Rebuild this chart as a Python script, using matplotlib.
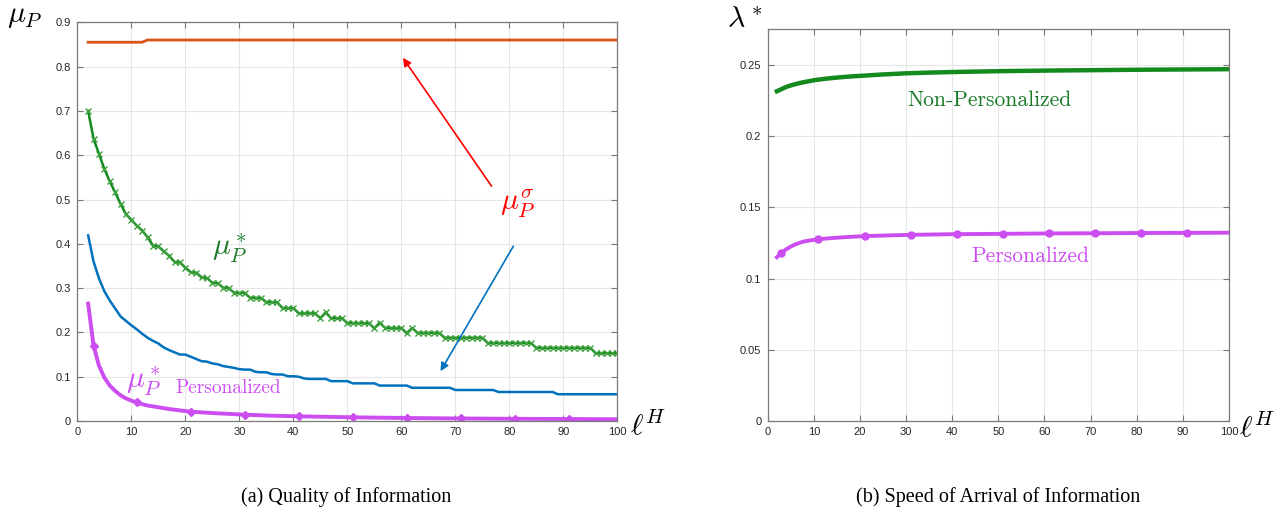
import matplotlib
matplotlib.use("Agg")
from matplotlib import pyplot as plt
import numpy as np

plt.rcParams['mathtext.fontset'] = 'cm'
plt.rcParams['font.family'] = ['Liberation Sans', 'DejaVu Sans']

# ---- panel (a): quality of information ----
lh = list(range(2, 101))

mu_sigma = [0.855] * 11 + [0.86] * 88

mu_star_np = [0.700, 0.637, 0.603, 0.569, 0.541, 0.516, 0.490, 0.467, 0.454, 0.441,
              0.430, 0.415, 0.396, 0.394, 0.383, 0.373, 0.359, 0.358, 0.346, 0.336,
              0.335, 0.324, 0.323, 0.312, 0.311, 0.301, 0.300, 0.290, 0.289, 0.289,
              0.278, 0.278, 0.278, 0.268, 0.268, 0.268, 0.255, 0.255, 0.255, 0.243,
              0.243, 0.243, 0.243, 0.232, 0.245, 0.232, 0.232, 0.232, 0.221, 0.221,
              0.221, 0.221, 0.221, 0.209, 0.222, 0.210, 0.210, 0.210, 0.210, 0.198,
              0.210, 0.199, 0.199, 0.199, 0.199, 0.199] \
    + [0.188] * 8 + [0.176] * 9 + [0.165] * 11 + [0.153] * 5

mu_blue = [0.419, 0.360, 0.322, 0.293, 0.272, 0.254, 0.236, 0.226, 0.216, 0.207,
           0.197, 0.188, 0.181, 0.175, 0.166, 0.160, 0.155, 0.150, 0.150, 0.145,
           0.140, 0.135, 0.134, 0.130, 0.128, 0.124, 0.122, 0.120, 0.117, 0.116,
           0.116, 0.111, 0.110, 0.110, 0.106, 0.105, 0.105, 0.101, 0.101, 0.100,
           0.096, 0.095, 0.095, 0.095, 0.095, 0.090, 0.090, 0.090, 0.090, 0.085,
           0.085, 0.085, 0.085, 0.085] \
    + [0.080] * 6 + [0.075] * 8 + [0.070] * 8 + [0.0655] * 11 + [0.0605] * 12

pers_x = [2, 3, 4, 5, 6, 7, 8, 9, 10, 11, 12, 13, 14, 15, 17, 19, 21, 25, 31, 36,
          41, 51, 61, 71, 81, 91, 100]
pers_mu = [0.265, 0.170, 0.125, 0.098, 0.080, 0.068, 0.058, 0.051, 0.046, 0.042,
           0.038, 0.035, 0.033, 0.031, 0.027, 0.024, 0.021, 0.018, 0.0143, 0.012,
           0.0106, 0.0083, 0.0068, 0.0057, 0.0050, 0.0045, 0.0040]

# ---- panel (b): speed of arrival ----
np_x = [2, 3, 4, 5, 6, 7, 8, 9, 10, 12, 14, 16, 18, 20, 25, 30, 35, 40, 45, 50,
        60, 70, 80, 90, 100]
np_lam = [0.2315, 0.2330, 0.2345, 0.2356, 0.2365, 0.2373, 0.2380, 0.2386, 0.2392,
          0.2401, 0.2408, 0.2414, 0.2419, 0.2423, 0.2433, 0.2441, 0.2446, 0.2450,
          0.2453, 0.2456, 0.2460, 0.2463, 0.2466, 0.2468, 0.2470]

p_x = [2, 3, 4, 5, 6, 7, 8, 9, 10, 11, 13, 15, 18, 21, 26, 31, 41, 51, 61, 71, 81,
       91, 100]
p_lam = [0.115, 0.118, 0.1205, 0.1225, 0.124, 0.1252, 0.1261, 0.1267, 0.1272,
         0.1276, 0.1282, 0.1287, 0.1293, 0.1298, 0.1303, 0.1307, 0.1312, 0.1314,
         0.1317, 0.1318, 0.1320, 0.1321, 0.1322]
mark_at = [3, 11, 21, 31, 41, 51, 61, 71, 81, 91]

orange = '#D95319'
blue = '#0072BD'
green = '#148A1E'
purple = '#CC4DF0'
axcol = '#7A7A7A'


def style(ax):
    ax.grid(True, color='#E6E6E6', lw=0.8)
    ax.set_axisbelow(True)
    for s in ax.spines.values():
        s.set_color(axcol)
        s.set_linewidth(0.9)
    ax.tick_params(direction='in', top=True, right=True, length=4,
                   color=axcol, labelsize=8, labelcolor='#262626', pad=4.5)
    ax.set_xlim(0, 100)
    ax.set_xticks(range(0, 101, 10))


fig = plt.figure(figsize=(12.85, 5.15), dpi=100)
ax1 = fig.add_axes([0.0602, 0.1825, 0.4202, 0.7742])
ax2 = fig.add_axes([0.5974, 0.1825, 0.3590, 0.7606])

# panel (a)
style(ax1)
ax1.set_ylim(0, 0.9)
ax1.set_yticks(np.arange(0, 0.91, 0.1))
ax1.set_yticklabels(['0'] + ['%.1f' % v for v in np.arange(0.1, 0.91, 0.1)])
ax1.plot(lh, mu_sigma, color=orange, lw=2)
ax1.plot(lh, mu_star_np, color=green, lw=1.8, marker='x', ms=4.5,
         mec='#3DA03D', mew=1)
ax1.plot(lh, mu_blue, color=blue, lw=1.8)
ax1.plot(pers_x, pers_mu, color=purple, lw=2.8, marker='D', ms=4.5,
         markevery=[pers_x.index(v) for v in mark_at])

ax1.annotate('', xy=(60, 0.825), xytext=(77, 0.525),
             arrowprops=dict(arrowstyle='-|>', color='red', lw=1.2,
                             mutation_scale=12))
ax1.annotate('', xy=(67, 0.107), xytext=(81, 0.40),
             arrowprops=dict(arrowstyle='-|>', color=blue, lw=1.2,
                             mutation_scale=12))
ax1.text(81.5, 0.49, r'$\mu_P^\sigma$', color='red', fontsize=21.5,
         ha='center', va='center')
ax1.text(28.3, 0.39, r'$\mu_P^*$', color='#1A7A28', fontsize=21.5,
         ha='center', va='center')
ax1.text(12.3, 0.09, r'$\mu_P^*$', color=purple, fontsize=21.5,
         ha='center', va='center')
ax1.text(27.9, 0.075, 'Personalized', color=purple, fontsize=14,
         family='cmr10', ha='center', va='center')

fig.text(25 / 1285, 1 - 16 / 515, r'$\mu_P$', fontsize=21.5, ha='center',
         va='center')
fig.text(648 / 1285, 1 - 426 / 515, r'$\ell^H$', fontsize=21.5, ha='center',
         va='center')

# panel (b)
style(ax2)
ax2.set_ylim(0, 0.275)
ax2.set_yticks([0, 0.05, 0.1, 0.15, 0.2, 0.25])
ax2.set_yticklabels(['0', '0.05', '0.1', '0.15', '0.2', '0.25'])
ax2.plot(np_x, np_lam, color=green, lw=3.2)
ax2.plot(p_x, p_lam, color=purple, lw=2.8, marker='o', ms=5,
         markevery=[p_x.index(v) for v in mark_at])
ax2.text(48, 0.225, 'Non-Personalized', color='#1A7A28', fontsize=15.5,
         family='cmr10', ha='center', va='center')
ax2.text(57, 0.1156, 'Personalized', color=purple, fontsize=15.5,
         family='cmr10', ha='center', va='center')

fig.text(745 / 1285, 1 - 20 / 515, r'$\lambda^*$', fontsize=21.5, ha='center',
         va='center')
fig.text(1257 / 1285, 1 - 428 / 515, r'$\ell^H$', fontsize=21.5, ha='center',
         va='center')

# captions
fig.text(346 / 1285, 1 - 497 / 515, '(a) Quality of Information',
         fontsize=14.5, family='Liberation Serif', ha='center', va='center')
fig.text(998 / 1285, 1 - 497 / 515, '(b) Speed of Arrival of Information',
         fontsize=14.5, family='Liberation Serif', ha='center', va='center')

fig.savefig('out.png', dpi=100)
